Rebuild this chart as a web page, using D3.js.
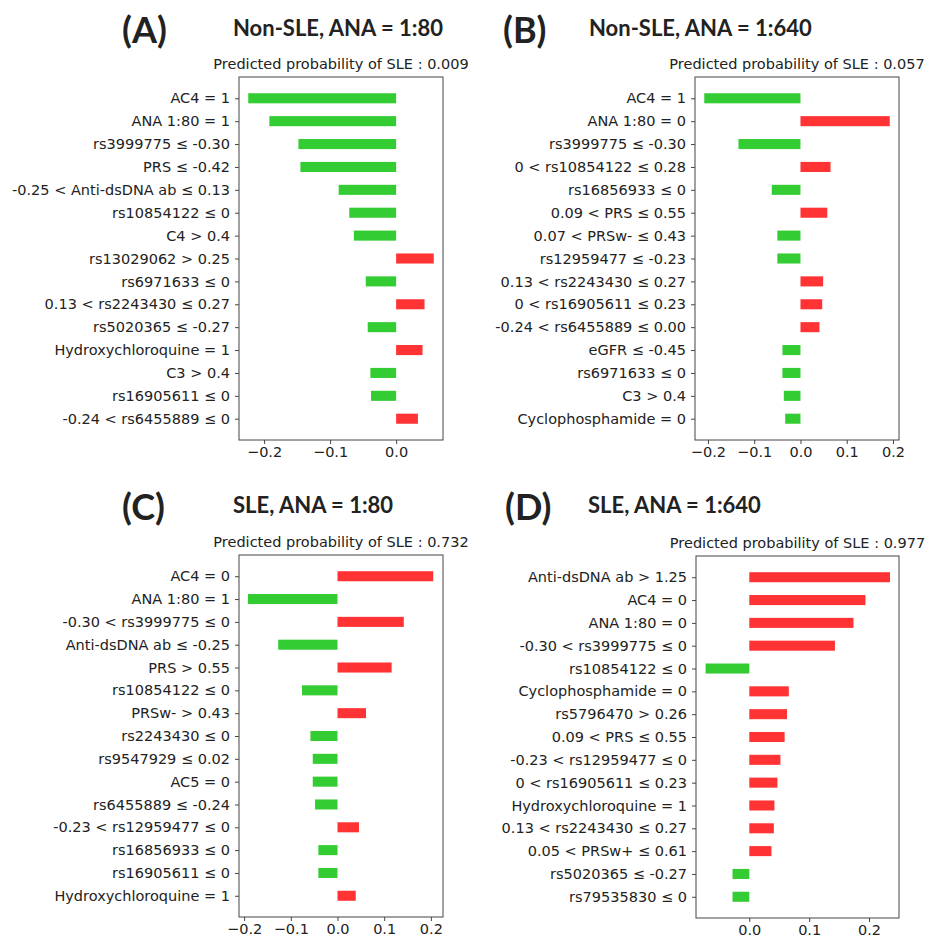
<!DOCTYPE html>
<html>
<head>
<meta charset="utf-8">
<script src="https://cdn.jsdelivr.net/npm/d3@7"></script>
<style>
  body { margin: 0; background: #fff; }
  svg text { fill: #222; }
  .tick-lbl { font-family: "DejaVu Sans", sans-serif; font-size: 14.5px; }
  .sub { font-family: "DejaVu Sans", sans-serif; font-size: 14.5px; }
  .head { font-family: Lato, "Open Sans", sans-serif; font-weight: bold; }
</style>
</head>
<body>
<svg id="fig" width="927" height="938"></svg>
<script>
// ---- data (LIME feature weights) ----
const A_LABELS = ["AC4 = 1","ANA 1:80 = 1","rs3999775 ≤ -0.30","PRS ≤ -0.42","-0.25 < Anti-dsDNA ab ≤ 0.13",
  "rs10854122 ≤ 0","C4 > 0.4","rs13029062 > 0.25","rs6971633 ≤ 0","0.13 < rs2243430 ≤ 0.27",
  "rs5020365 ≤ -0.27","Hydroxychloroquine = 1","C3 > 0.4","rs16905611 ≤ 0","-0.24 < rs6455889 ≤ 0"];
const A_VALUES = [-0.224,-0.192,-0.148,-0.145,-0.087,-0.071,-0.064,0.057,-0.046,0.043,-0.043,0.040,-0.039,-0.038,0.033];

const B_LABELS = ["AC4 = 1","ANA 1:80 = 0","rs3999775 ≤ -0.30","0 < rs10854122 ≤ 0.28","rs16856933 ≤ 0",
  "0.09 < PRS ≤ 0.55","0.07 < PRSw- ≤ 0.43","rs12959477 ≤ -0.23","0.13 < rs2243430 ≤ 0.27","0 < rs16905611 ≤ 0.23",
  "-0.24 < rs6455889 ≤ 0.00","eGFR ≤ -0.45","rs6971633 ≤ 0","C3 > 0.4","Cyclophosphamide = 0"];
const B_VALUES = [-0.208,0.193,-0.134,0.065,-0.062,0.058,-0.050,-0.050,0.049,0.047,0.041,-0.039,-0.039,-0.036,-0.033];

const C_LABELS = ["AC4 = 0","ANA 1:80 = 1","-0.30 < rs3999775 ≤ 0","Anti-dsDNA ab ≤ -0.25","PRS > 0.55",
  "rs10854122 ≤ 0","PRSw- > 0.43","rs2243430 ≤ 0","rs9547929 ≤ 0.02","AC5 = 0",
  "rs6455889 ≤ -0.24","-0.23 < rs12959477 ≤ 0","rs16856933 ≤ 0","rs16905611 ≤ 0","Hydroxychloroquine = 1"];
const C_VALUES = [0.205,-0.192,0.142,-0.127,0.116,-0.076,0.061,-0.058,-0.053,-0.053,-0.048,0.046,-0.041,-0.041,0.039];

const D_LABELS = ["Anti-dsDNA ab > 1.25","AC4 = 0","ANA 1:80 = 0","-0.30 < rs3999775 ≤ 0","rs10854122 ≤ 0",
  "Cyclophosphamide = 0","rs5796470 > 0.26","0.09 < PRS ≤ 0.55","-0.23 < rs12959477 ≤ 0","0 < rs16905611 ≤ 0.23",
  "Hydroxychloroquine = 1","0.13 < rs2243430 ≤ 0.27","0.05 < PRSw+ ≤ 0.61","rs5020365 ≤ -0.27","rs79535830 ≤ 0"];
const D_VALUES = [0.235,0.194,0.174,0.143,-0.073,0.066,0.063,0.059,0.052,0.047,0.042,0.041,0.037,-0.028,-0.028];

const X_DOMAINS = { A: [-0.238, 0.071], B: [-0.228, 0.213], C: [-0.211, 0.226], D: [-0.089, 0.25] };
const X_TICKS   = { A: [-0.2,-0.1,0.0], B: [-0.2,-0.1,0.0,0.1,0.2], C: [-0.2,-0.1,0.0,0.1,0.2], D: [0.0,0.1,0.2] };
const PROBS     = { A: "0.009", B: "0.057", C: "0.732", D: "0.977" };
const TITLES    = { A: "Non-SLE, ANA = 1:80", B: "Non-SLE, ANA = 1:640", C: "SLE, ANA = 1:80", D: "SLE, ANA = 1:640" };

const GREEN = "#33cc33", RED = "#ff3333";

// panel boxes (plot area) and heading positions
const PANELS = [
  { key:"A", labels:A_LABELS, values:A_VALUES, x0:239, x1:443, y0:77,  y1:440, letterX:122, titleX:233, headY:36 },
  { key:"B", labels:B_LABELS, values:B_VALUES, x0:695, x1:899, y0:77,  y1:440, letterX:503, titleX:589, headY:36 },
  { key:"C", labels:C_LABELS, values:C_VALUES, x0:239, x1:443, y0:555, y1:917, letterX:122, titleX:233, headY:513 },
  { key:"D", labels:D_LABELS, values:D_VALUES, x0:696, x1:899, y0:556, y1:918, letterX:505, titleX:588, headY:513 }
];

const svg = d3.select("#fig");
const fmt = d => (d < 0 ? "\u2212" : "") + Math.abs(d).toFixed(1);

PANELS.forEach(p => {
  const n = p.labels.length;
  const x = d3.scaleLinear().domain(X_DOMAINS[p.key]).range([p.x0, p.x1]);
  const y = d3.scaleLinear().domain([-0.93, n - 0.07]).range([p.y0, p.y1]);
  const bh = (y(1) - y(0)) * 0.44;
  const g = svg.append("g");

  // bars
  g.selectAll("rect.bar").data(p.values).join("rect")
    .attr("class","bar")
    .attr("x", d => x(Math.min(0, d)))
    .attr("width", d => Math.abs(x(d) - x(0)))
    .attr("y", (d,i) => y(i) - bh/2)
    .attr("height", bh)
    .attr("fill", d => d < 0 ? GREEN : RED);

  // frame
  g.append("rect").attr("x",p.x0).attr("y",p.y0)
    .attr("width",p.x1-p.x0).attr("height",p.y1-p.y0)
    .attr("fill","none").attr("stroke","#444").attr("stroke-width",1);

  // y axis: feature labels
  const yAx = g.append("g").attr("transform",`translate(${p.x0},0)`)
    .call(d3.axisLeft(y).tickValues(d3.range(n)).tickSize(4).tickPadding(5)
      .tickFormat(i => p.labels[i]));
  yAx.select(".domain").remove();
  yAx.selectAll("line").attr("stroke","#444");
  yAx.selectAll("text").attr("class","tick-lbl").attr("fill","#222")
    .attr("font-family",null).attr("font-size",null);

  // x axis
  const xAx = g.append("g").attr("transform",`translate(0,${p.y1})`)
    .call(d3.axisBottom(x).tickValues(X_TICKS[p.key]).tickSize(4).tickPadding(3).tickFormat(fmt));
  xAx.select(".domain").remove();
  xAx.selectAll("line").attr("stroke","#444");
  xAx.selectAll("text").attr("class","tick-lbl").attr("fill","#222")
    .attr("font-family",null).attr("font-size",null);

  // subtitle
  g.append("text").attr("class","sub")
    .attr("x",(p.x0+p.x1)/2).attr("y",p.y0-8).attr("text-anchor","middle")
    .text("Predicted probability of SLE : " + PROBS[p.key]);

  // panel letter + heading
  g.append("text").attr("class","head").attr("font-size","36px")
    .attr("x",p.letterX).attr("y",p.headY+7).text(`(${p.key})`);
  g.append("text").attr("class","head").attr("font-size","22px")
    .attr("x",p.titleX).attr("y",p.headY).text(TITLES[p.key]);
});
</script>
</body>
</html>
